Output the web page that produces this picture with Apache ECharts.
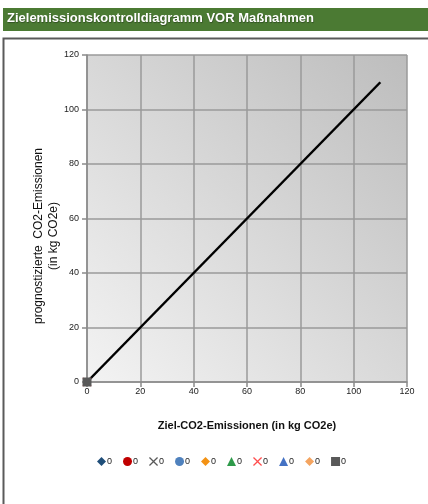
<!DOCTYPE html>
<html>
<head>
<meta charset="utf-8">
<script src="https://cdn.jsdelivr.net/npm/echarts@6/dist/echarts.min.js"></script>
<style>
  html, body { margin: 0; padding: 0; background: #fff; }
  #chart { width: 428px; height: 504px; }
</style>
</head>
<body>
<div id="chart"></div>
<script>
// Target line: forecast emissions equal to target emissions
const targetLine = [[0, 0], [110, 110]];

// Measure series (each currently a single point at the origin)
const measureNames = ['m1', 'm2', 'm3', 'm4', 'm5', 'm6', 'm7', 'm8', 'm9', 'm10'];
const measureLabels = ['0', '0', '0', '0', '0', '0', '0', '0', '0', '0'];
const measurePoints = [
  [[0, 0]], [[0, 0]], [[0, 0]], [[0, 0]], [[0, 0]],
  [[0, 0]], [[0, 0]], [[0, 0]], [[0, 0]], [[0, 0]]
];

const xTicks = [0, 20, 40, 60, 80, 100, 120];
const yTicks = [0, 20, 40, 60, 80, 100, 120];

const crossPath = 'path://M0,1 L1,0 L5,4 L9,0 L10,1 L6,5 L10,9 L9,10 L5,6 L1,10 L0,9 L4,5 Z';
const markerStyles = [
  { symbol: 'diamond', size: 7, color: '#1f4e79' },
  { symbol: 'circle', size: 8, color: '#c00000' },
  { symbol: crossPath, size: 8, color: '#595959' },
  { symbol: 'circle', size: 8, color: '#4f81bd' },
  { symbol: 'diamond', size: 8, color: '#f39214' },
  { symbol: 'triangle', size: 8, color: '#2e9a4a' },
  { symbol: crossPath, size: 9, color: '#ff4d4d' },
  { symbol: 'triangle', size: 6, color: '#4472c4' },
  { symbol: 'diamond', size: 6, color: '#f4a460' },
  { symbol: 'rect', size: 9, color: '#595959' }
];

const chart = echarts.init(document.getElementById('chart'), null, { renderer: 'canvas' });

const series = [{
  type: 'line',
  name: 'Ziel',
  data: targetLine,
  symbol: 'none',
  lineStyle: { color: '#000', width: 2.5 },
  z: 3
}];
measureNames.forEach((n, i) => {
  const m = markerStyles[i];
  series.push({
    type: 'scatter',
    name: n,
    data: measurePoints[i],
    symbol: m.symbol,
    symbolSize: m.size,
    itemStyle: { color: m.color, opacity: 1 },
    z: 4 + i
  });
});

const font = 'Liberation Sans, Arial, sans-serif';
const axisLabelStyle = { color: '#222', fontSize: 9, fontFamily: font };

chart.setOption({
  animation: false,
  graphic: [
    { type: 'rect', shape: { x: 3, y: 8, width: 430, height: 23 }, style: { fill: '#4b7a33' }, z: 0 },
    { type: 'rect', shape: { x: 3.5, y: 38.5, width: 500, height: 500 }, style: { fill: 'none', stroke: '#5a5a5a', lineWidth: 2 }, z: 0 }
  ],
  title: {
    text: 'Zielemissionskontrolldiagramm VOR Maßnahmen',
    left: 7,
    top: 12,
    padding: 0,
    textStyle: {
      color: '#fff', fontSize: 13, fontWeight: 'bold',
      fontFamily: font,
      textShadowColor: 'rgba(0,0,0,0.35)', textShadowBlur: 1, textShadowOffsetX: 0.5, textShadowOffsetY: 0.5
    }
  },
  grid: {
    left: 87, right: 21, top: 55, bottom: 122,
    show: true,
    borderWidth: 0,
    backgroundColor: new echarts.graphic.LinearGradient(0, 1, 1, 0, [
      { offset: 0, color: '#f3f3f3' },
      { offset: 1, color: '#bdbdbd' }
    ])
  },
  legend: {
    data: measureNames,
    formatter: name => measureLabels[measureNames.indexOf(name)],
    left: 92,
    top: 452,
    itemWidth: 9,
    itemHeight: 9,
    itemGap: 11,
    textStyle: { fontSize: 9, color: '#222', fontFamily: font, padding: [0, 0, 0, -4] }
  },
  xAxis: {
    type: 'value',
    min: xTicks[0], max: xTicks[xTicks.length - 1], interval: 20,
    name: 'Ziel-CO2-Emissionen (in kg CO2e)',
    nameLocation: 'middle',
    nameGap: 38,
    nameMoveOverlap: false,
    nameTextStyle: { fontSize: 11, fontWeight: 'bold', color: '#111', fontFamily: font },
    axisLine: { show: true, lineStyle: { color: '#8a8a8a', width: 1.5 } },
    axisTick: { show: true, length: 5, lineStyle: { color: '#8a8a8a', width: 1.5 } },
    axisLabel: Object.assign({ margin: 5 }, axisLabelStyle),
    splitLine: { show: true, lineStyle: { color: '#9a9a9a', width: 1.5 } }
  },
  yAxis: {
    type: 'value',
    min: yTicks[0], max: yTicks[yTicks.length - 1], interval: 20,
    name: 'prognostizierte  CO2-Emissionen\n(in kg CO2e)',
    nameLocation: 'middle',
    nameGap: 26,
    nameMoveOverlap: false,
    nameTextStyle: { fontSize: 12, color: '#111', lineHeight: 15, fontFamily: font, padding: [0, 0, 0, -35] },
    axisLine: { show: true, lineStyle: { color: '#8a8a8a', width: 1.5 } },
    axisTick: { show: true, length: 5, lineStyle: { color: '#8a8a8a', width: 1.5 } },
    axisLabel: Object.assign({ margin: 8 }, axisLabelStyle),
    splitLine: { show: true, lineStyle: { color: '#9a9a9a', width: 1.5 } }
  },
  series: series
});
</script>
</body>
</html>
